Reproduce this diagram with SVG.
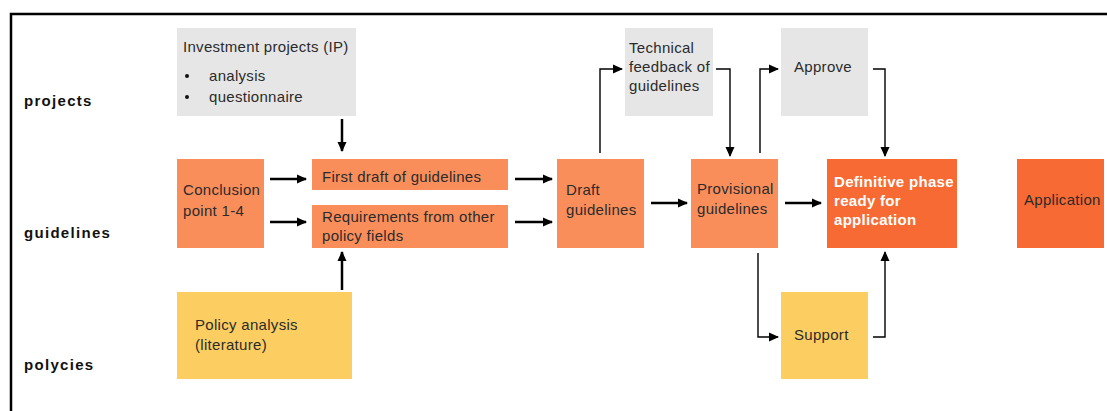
<svg xmlns="http://www.w3.org/2000/svg" width="1107" height="411" viewBox="0 0 1107 411">
<style>
.gray{fill:#e6e6e6}
.lo{fill:#fa8e5b}
.do{fill:#f76a33}
.ye{fill:#fcce62}
.t{font-family:"Liberation Sans",Arial,sans-serif;font-size:15px;letter-spacing:0.3px;fill:#2b2b2b}
.tw{font-family:"Liberation Sans",Arial,sans-serif;font-size:15px;letter-spacing:0.3px;font-weight:bold;fill:#ffffff}
.lab{font-family:"Liberation Sans",Arial,sans-serif;font-size:15px;font-weight:bold;fill:#111;letter-spacing:1.3px}
.thick{stroke:#000;stroke-width:2.5;fill:none}
.thin{stroke:#000;stroke-width:1.4;fill:none}
</style>
<defs>
<marker id="ah" markerUnits="userSpaceOnUse" markerWidth="10" markerHeight="10" viewBox="0 0 10 10" refX="9" refY="5" orient="auto">
<path d="M0,0.5 L10,5 L0,9.5 Z" fill="#000"/>
</marker>
</defs>
<rect width="1107" height="411" fill="#fff"/>
<g id="frame"><path d="M11,411 V14 H1107" stroke="#000" stroke-width="2.5" fill="none"/></g>
<g id="labels">
<text class="lab" x="24" y="106">projects</text>
<text class="lab" x="24" y="238">guidelines</text>
<text class="lab" x="24" y="370">polycies</text>
</g>
<g id="ip"><rect class="gray" x="177" y="28" width="179" height="88"/>
<text class="t" x="183" y="52">Investment projects (IP)</text>
<circle cx="187" cy="76" r="2" fill="#111"/><circle cx="187" cy="97" r="2" fill="#111"/>
<text class="t" x="209" y="81">analysis</text>
<text class="t" x="209" y="102">questionnaire</text></g>
<g id="conclusion"><rect class="lo" x="177" y="159" width="87" height="89"/>
<text class="t" x="183" y="195">Conclusion</text><text class="t" x="183" y="216">point 1-4</text></g>
<g id="firstdraft"><rect class="lo" x="312" y="159" width="196" height="31"/>
<text class="t" x="322" y="182">First draft of guidelines</text></g>
<g id="requirements"><rect class="lo" x="312" y="205" width="196" height="43"/>
<text class="t" x="322" y="222">Requirements from other</text><text class="t" x="322" y="241">policy fields</text></g>
<g id="policy"><rect class="ye" x="177" y="292" width="175" height="87"/>
<text class="t" x="195" y="330">Policy analysis</text><text class="t" x="195" y="350">(literature)</text></g>
<g id="draft"><rect class="lo" x="557" y="159" width="87" height="89"/>
<text class="t" x="566" y="195">Draft</text><text class="t" x="566" y="215">guidelines</text></g>
<g id="technical"><rect class="gray" x="625" y="28" width="88" height="88"/>
<text class="t" x="629" y="53">Technical</text><text class="t" x="629" y="72">feedback of</text><text class="t" x="629" y="91">guidelines</text></g>
<g id="provisional"><rect class="lo" x="691" y="159" width="87" height="89"/>
<text class="t" x="697" y="194">Provisional</text><text class="t" x="697" y="214">guidelines</text></g>
<g id="approve"><rect class="gray" x="781" y="28" width="87" height="88"/>
<text class="t" x="794" y="72">Approve</text></g>
<g id="support"><rect class="ye" x="781" y="292" width="87" height="87"/>
<text class="t" x="794" y="340">Support</text></g>
<g id="definitive"><rect class="do" x="827" y="159" width="130" height="89"/>
<text class="tw" x="834" y="187">Definitive phase</text><text class="tw" x="834" y="206">ready for</text><text class="tw" x="834" y="225">application</text></g>
<g id="application"><rect class="do" x="1017" y="159" width="87" height="89"/>
<text class="t" x="1024" y="205">Application</text></g>
<g id="connectors">
<line class="thick" x1="342" y1="119" x2="342" y2="151" marker-end="url(#ah)"/>
<line class="thick" x1="342" y1="290" x2="342" y2="252" marker-end="url(#ah)"/>
<line class="thick" x1="270" y1="179" x2="306" y2="179" marker-end="url(#ah)"/>
<line class="thick" x1="270" y1="222" x2="306" y2="222" marker-end="url(#ah)"/>
<line class="thick" x1="515" y1="179" x2="552" y2="179" marker-end="url(#ah)"/>
<line class="thick" x1="515" y1="222" x2="552" y2="222" marker-end="url(#ah)"/>
<line class="thick" x1="651" y1="203" x2="687" y2="203" marker-end="url(#ah)"/>
<line class="thick" x1="785" y1="203" x2="821" y2="203" marker-end="url(#ah)"/>
<path class="thin" d="M600,153 V69 H622" marker-end="url(#ah)"/>
<path class="thin" d="M716,69 H730 V156" marker-end="url(#ah)"/>
<path class="thin" d="M760,153 V69 H778" marker-end="url(#ah)"/>
<path class="thin" d="M873,69 H885 V156" marker-end="url(#ah)"/>
<path class="thin" d="M758,253 V337 H778" marker-end="url(#ah)"/>
<path class="thin" d="M873,337 H885 V252" marker-end="url(#ah)"/>
</g>
</svg>
